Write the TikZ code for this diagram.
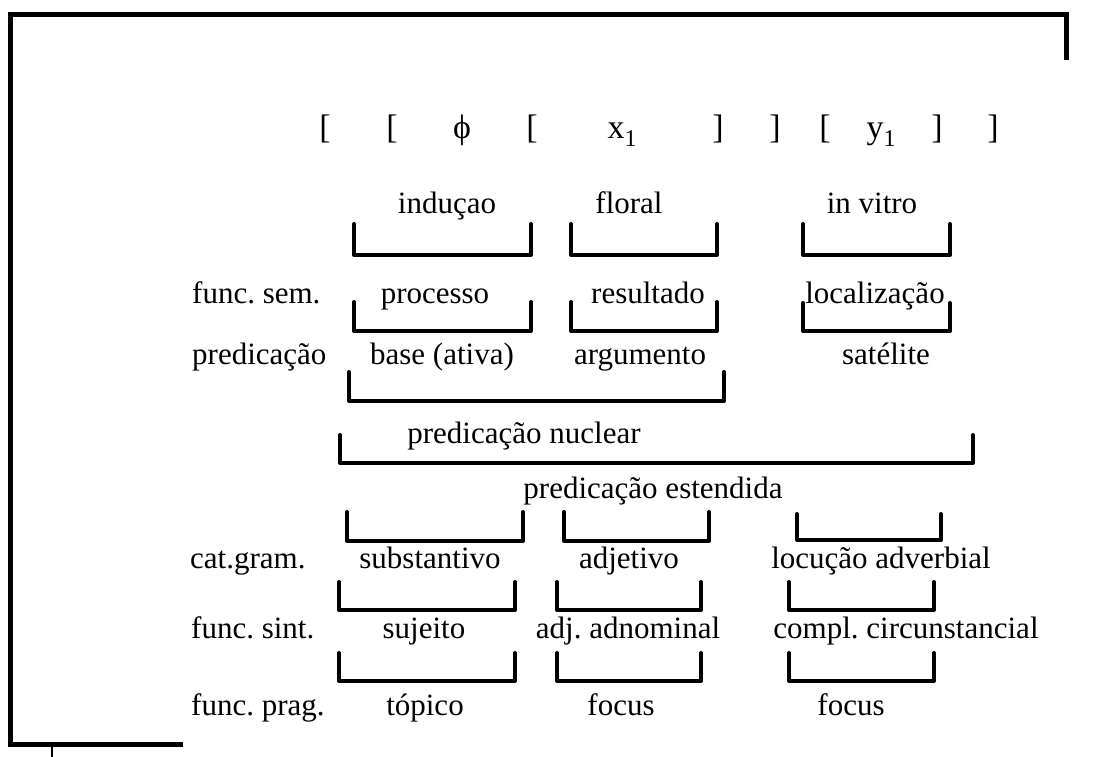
\documentclass[tikz,border=0pt]{standalone}
\usepackage{fontspec}
\setmainfont{Liberation Serif}
\frenchspacing
\newcommand{\subone}{\raisebox{-8pt}{\fontsize{24}{28}\selectfont 1}}
\begin{document}
\begin{tikzpicture}[x=1pt,y=-1pt,
  frameline/.style={line width=5pt,line cap=butt,line join=miter},
  brk/.style={line width=4pt,line cap=round,line join=round},
  lbl/.style={inner sep=0pt,anchor=base west,font=\fontsize{31}{37}\selectfont},
  txt/.style={inner sep=0pt,anchor=base,font=\fontsize{31}{37}\selectfont},
  form/.style={inner sep=0pt,anchor=base,font=\fontsize{34}{40}\selectfont}]
\useasboundingbox (0,0) rectangle (1105,757);
% frame
\draw[frameline] (1066,60) -- (1066,14.5) -- (10,14.5) -- (10,744.5) -- (183,744.5);
\draw[line width=1.5pt] (52,747) -- (52,757);
% top formula
\node[form] (b1) at (325,139) {[};
\node[form] (b2) at (392,139) {[};
\node[form] (phi) at (462,139) {ϕ};
\node[form] (b3) at (532,139) {[};
\node[form] (x1) at (622,139) {x\subone};
\node[form] (b4) at (718,139) {]};
\node[form] (b5) at (775,139) {]};
\node[form] (b6) at (825,139) {[};
\node[form] (y1) at (881,139) {y\subone};
\node[form] (b7) at (937,139) {]};
\node[form] (b8) at (993,139) {]};
% row A
\node[txt] (inducao) at (447,213) {induçao};
\node[txt] (floral) at (629,213) {floral};
\node[txt] (invitro) at (872,213) {in vitro};
\draw[brk] (354,224) |- (531,255) -- (531,224);
\draw[brk] (571,224) |- (717,255) -- (717,224);
\draw[brk] (803,224) |- (950,255) -- (950,224);
% row B
\node[lbl] (fsem) at (192,303) {func. sem.};
\node[txt] (processo) at (435,303) {processo};
\node[txt] (resultado) at (648,303) {resultado};
\node[txt] (localizacao) at (875,303) {localização};
\draw[brk] (354,302) |- (531,331) -- (531,302);
\draw[brk] (571,302) |- (717,331) -- (717,302);
\draw[brk] (803,303) |- (950,331) -- (950,303);
% row C
\node[lbl] (pred) at (192,364) {predicação};
\node[txt] (base) at (442,364) {base (ativa)};
\node[txt] (arg) at (640,364) {argumento};
\node[txt] (sat) at (886,364) {satélite};
\draw[brk] (349,372) |- (724,401) -- (724,372);
% row D
\node[txt] (nuclear) at (524,443) {predicação nuclear};
\draw[brk] (340,435) |- (973,463) -- (973,435);
\node[txt] (estendida) at (653,498) {predicação estendida};
% row E
\draw[brk] (347,512) |- (523,541) -- (523,512);
\draw[brk] (564,512) |- (709,541) -- (709,512);
\draw[brk] (797,514) |- (941,540) -- (941,514);
\node[lbl] (catgram) at (190,568) {cat.gram.};
\node[txt] (subst) at (430,568) {substantivo};
\node[txt] (adj) at (629,568) {adjetivo};
\node[txt] (locucao) at (881,568) {locução adverbial};
% row F
\draw[brk] (339,582) |- (515,610) -- (515,582);
\draw[brk] (557,582) |- (701,610) -- (701,582);
\draw[brk] (789,582) |- (934,610) -- (934,582);
\node[lbl] (fsint) at (191,638) {func. sint.};
\node[txt] (sujeito) at (424,638) {sujeito};
\node[txt] (adjadn) at (628,638) {adj. adnominal};
\node[txt] (compl) at (906,638) {compl. circunstancial};
% row G
\draw[brk] (339,653) |- (515,681) -- (515,653);
\draw[brk] (557,653) |- (701,681) -- (701,653);
\draw[brk] (789,653) |- (934,681) -- (934,653);
\node[lbl] (fprag) at (191,715) {func. prag.};
\node[txt] (topico) at (425,715) {tópico};
\node[txt] (focus1) at (621,715) {focus};
\node[txt] (focus2) at (851,715) {focus};
\end{tikzpicture}
\end{document}
